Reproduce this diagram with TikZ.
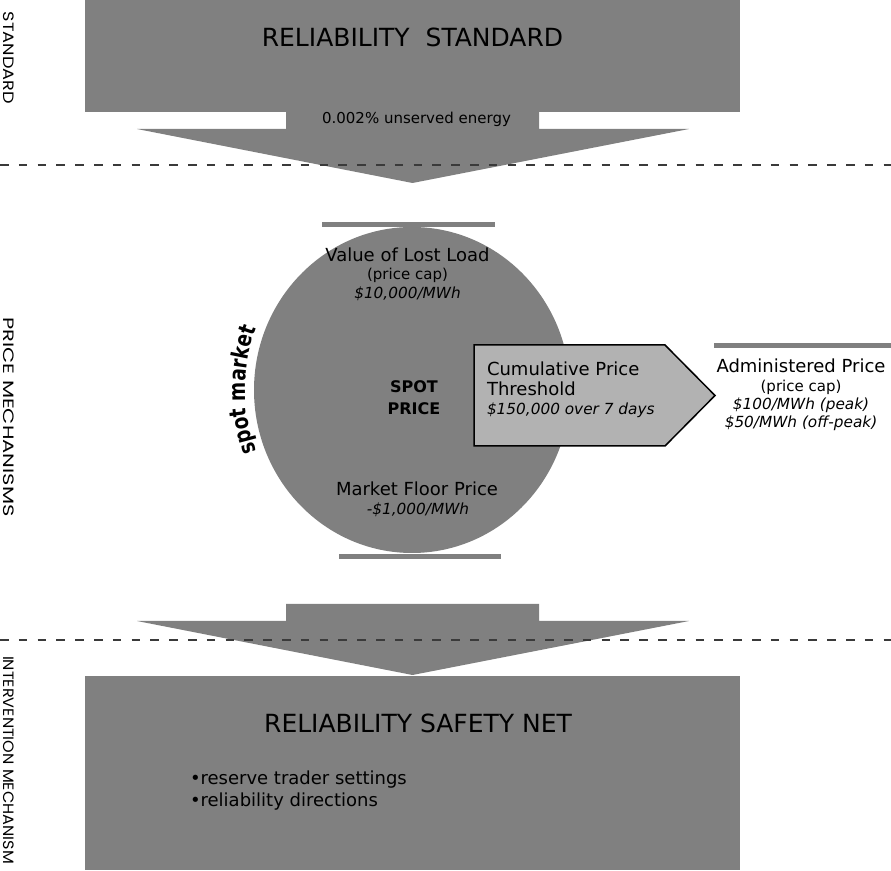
\documentclass[tikz,border=0pt]{standalone}
\usepackage{fontspec}
\setmainfont{DejaVu Sans}
\newfontfamily\sidefont{Poppins}
\newfontfamily\spotfont[FakeStretch=0.8]{DejaVu Sans}
\usetikzlibrary{decorations.text,shapes.geometric}
\definecolor{boxgray}{HTML}{808080}
\definecolor{ptgray}{HTML}{B2B2B2}
\definecolor{dashgray}{HTML}{3A3A3A}
\begin{document}
\begin{tikzpicture}[x=1pt,y=1pt,
  every node/.style={inner sep=0pt, outer sep=0pt, text=black},
  tbig/.style={font=\fontsize{25}{30}\selectfont, anchor=base},
  tmain/.style={font=\fontsize{18}{22}\selectfont, anchor=base},
  tsub/.style={font=\fontsize{15}{18}\selectfont, anchor=base},
  tsubit/.style={font=\fontsize{15.3}{18}\selectfont\itshape, anchor=base},
  tbold/.style={font=\fontsize{16}{20}\selectfont\bfseries, anchor=base},
  tside/.style={font=\sidefont\fontsize{15}{18}\selectfont, rotate=-90},
  divider/.style={draw=dashgray, line width=2.3pt, dash pattern=on 8.5pt off 10.3pt},
  graybox/.style={fill=boxgray, draw=none}]
\useasboundingbox (0,0) rectangle (891,870);
\fill[white] (0,0) rectangle (891,870);

% standard box and arrow
\node[graybox, minimum width=655pt, minimum height=112pt, anchor=north west] (std) at (85,870) {};
\fill[boxgray] (286,759) -- (539,759) -- (539,741) -- (689,741) -- (412.5,687) -- (137,741) -- (286,741) -- cycle;
\node[tbig] (stdtitle) at (412.5,823) {RELIABILITY\ \ STANDARD};
\node[tsub] (ue) at (416.5,746.5) {0.002\% unserved energy};

% spot price circle
\node[graybox, ellipse, minimum width=316pt, minimum height=326pt] (spot) at (412,480) {};
\fill[boxgray] (322,643) rectangle (495,648);
\fill[boxgray] (339,311) rectangle (501,316);
\node[tmain] (voll) at (407.5,608) {Value of Lost Load};
\node[tsub] (voll2) at (407.5,590) {(price cap)};
\node[tsubit] (voll3) at (407.5,571) {\$10,000/MWh};
\node[tbold] (sp1) at (414,477) {SPOT};
\node[tbold] (sp2) at (414,455) {PRICE};
\node[tmain] (mfp) at (417,374) {Market Floor Price};
\node[tsubit] (mfp2) at (418,355) {-\$1,000/MWh};
\path[decorate, decoration={text along path, text align=center,
  text={|\spotfont\bfseries\fontsize{23}{26}\selectfont|spot market}}]
  (260.65,407.3) arc[start angle=205, end angle=155, x radius=167, y radius=172];

% cumulative price threshold
\draw[line width=1.5pt, fill=ptgray, line join=miter] (474,525) -- (665,525) -- (715,474.5) -- (665,424) -- (474,424) -- cycle;
\node[tmain, anchor=base west] (cpt1) at (487,494) {Cumulative Price};
\node[tmain, anchor=base west] (cpt2) at (487,474) {Threshold};
\node[tsubit, anchor=base west] (cpt3) at (487,455) {\$150,000 over 7 days};

% administered price
\fill[boxgray] (714,522) rectangle (891,527);
\node[tmain] (ap1) at (801,497) {Administered Price};
\node[tsub] (ap2) at (801,478) {(price cap)};
\node[tsubit] (ap3) at (801,460) {\$100/MWh (peak)};
\node[tsubit] (ap4) at (801,442) {\$50/MWh (off-peak)};

% safety net arrow and box
\fill[boxgray] (286,266) -- (539,266) -- (539,249) -- (689,249) -- (412.5,195) -- (137,249) -- (286,249) -- cycle;
\node[graybox, minimum width=655pt, minimum height=194pt, anchor=south west] (net) at (85,0) {};
\node[tbig] (nettitle) at (418,137) {RELIABILITY SAFETY NET};
\node[tmain, anchor=base west] (b1) at (190,86) {•reserve trader settings};
\node[tmain, anchor=base west] (b2) at (190,64) {•reliability directions};

% dividers
\coordinate (d1a) at (0,705); \coordinate (d1b) at (891,705);
\coordinate (d2a) at (0,230); \coordinate (d2b) at (891,230);
\draw[divider] (d1a) -- (d1b);
\draw[divider] (d2a) -- (d2b);

% side labels
\node[tside] (ls) at (9,812) {\scalebox{1.18}[1]{STANDARD}};
\node[tside] (lp) at (9,453) {\scalebox{1.4}[1]{PRICE MECHANISMS}};
\node[tside] (li) at (9,110) {\scalebox{1.07}[1]{INTERVENTION MECHANISM}};
\end{tikzpicture}
\end{document}
